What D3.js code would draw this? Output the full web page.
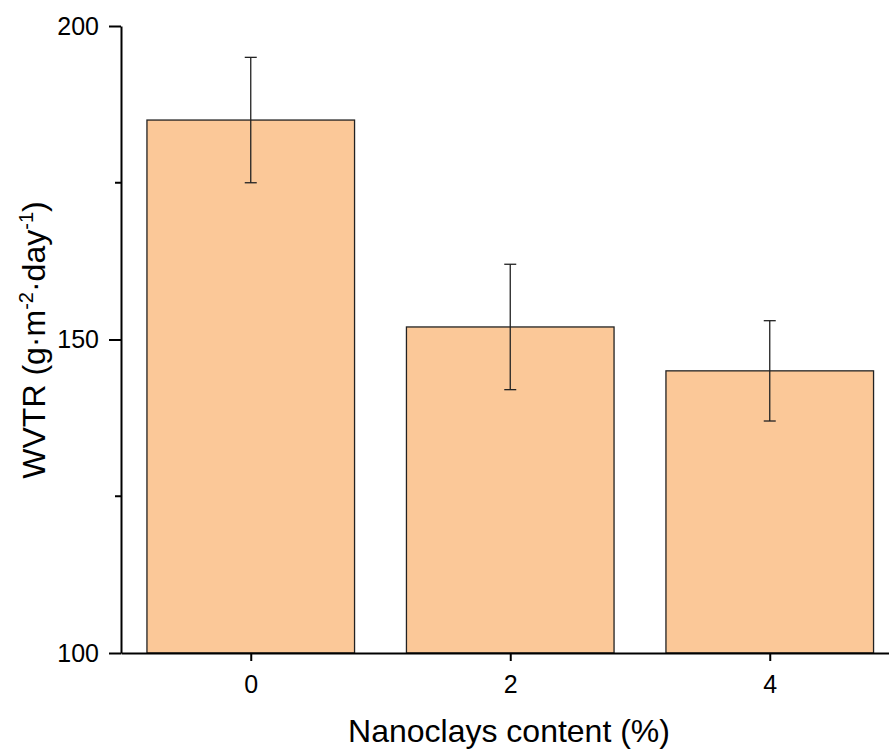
<!DOCTYPE html>
<html>
<head>
<meta charset="utf-8">
<style>
    body { margin: 0; background: #fff; }
    svg { font-family: 'Liberation Sans', Arial, sans-serif; }
</style>
</head>
<body>
<svg width="889" height="749"></svg>
<script src="https://d3js.org/d3.v7.min.js"></script>
<script>
    // data
    let contents = [0, 2, 4];
    let wvtr = [185, 152, 145];
    let errors = [10, 10, 8];
    let yTicks = [100, 150, 200];
    let yMinor = [125, 175];

    let svg = d3.select("svg");

    let x = d3.scaleLinear().domain([-1, 5]).range([121, 899.5]);
    let y = d3.scaleLinear().domain([100, 200]).range([653, 26]);

    let barW = x(1.6) - x(0);
    let rows = contents.map((c, i) => ({ c: c, v: wvtr[i], e: errors[i] }));

    // bars
    svg.append("g")
        .selectAll("rect")
        .data(rows)
        .join("rect")
        .attr("x", d => x(d.c) - barW / 2)
        .attr("y", d => y(d.v))
        .attr("width", barW)
        .attr("height", d => y(100) - y(d.v))
        .attr("fill", "#fbc898")
        .attr("stroke", "#222")
        .attr("stroke-width", 1.3);

    // error bars
    let eb = svg.append("g").attr("stroke", "#222").attr("stroke-width", 1.3);
    eb.selectAll(".v").data(rows).join("line")
        .attr("x1", d => x(d.c)).attr("x2", d => x(d.c))
        .attr("y1", d => y(d.v + d.e)).attr("y2", d => y(d.v - d.e));
    eb.selectAll(".t").data(rows).join("line")
        .attr("x1", d => x(d.c) - 6).attr("x2", d => x(d.c) + 6)
        .attr("y1", d => y(d.v + d.e)).attr("y2", d => y(d.v + d.e));
    eb.selectAll(".b").data(rows).join("line")
        .attr("x1", d => x(d.c) - 6).attr("x2", d => x(d.c) + 6)
        .attr("y1", d => y(d.v - d.e)).attr("y2", d => y(d.v - d.e));

    // y axis
    let yAxis = svg.append("g")
        .attr("transform", "translate(121,0)")
        .call(d3.axisLeft(y).tickValues(yTicks).tickFormat(d3.format("d"))
            .tickSize(12).tickPadding(10).tickSizeOuter(0));
    yAxis.selectAll("text").style("font-size", "25px").attr("fill", "#000");
    yAxis.select(".domain").attr("stroke-width", 2);
    yAxis.selectAll(".tick line").attr("stroke-width", 2);
    yAxis.selectAll(".minor").data(yMinor).join("line")
        .attr("x1", -6).attr("x2", 0)
        .attr("y1", d => y(d)).attr("y2", d => y(d))
        .attr("stroke", "#000").attr("stroke-width", 2);

    // x axis
    let xAxis = svg.append("g")
        .attr("transform", "translate(0,653)")
        .call(d3.axisBottom(x).tickValues(contents).tickFormat(d3.format("d"))
            .tickSize(8).tickPadding(14).tickSizeOuter(0));
    xAxis.selectAll("text").style("font-size", "25px").attr("fill", "#000");
    xAxis.select(".domain").attr("stroke-width", 2);
    xAxis.selectAll(".tick line").attr("stroke-width", 2);

    // axis titles
    svg.append("text")
        .attr("x", 509)
        .attr("y", 742)
        .attr("text-anchor", "middle")
        .style("font-size", "32px")
        .text("Nanoclays content (%)");

    let yt = svg.append("text")
        .attr("transform", "translate(45,340) rotate(-90)")
        .attr("text-anchor", "middle")
        .style("font-size", "32px");
    yt.append("tspan").text("WVTR (g·m");
    yt.append("tspan").style("font-size", "20px").attr("baseline-shift", "60%").text("-2");
    yt.append("tspan").text("·day");
    yt.append("tspan").style("font-size", "20px").attr("baseline-shift", "60%").text("-1");
    yt.append("tspan").text(")");
</script>
</body>
</html>
